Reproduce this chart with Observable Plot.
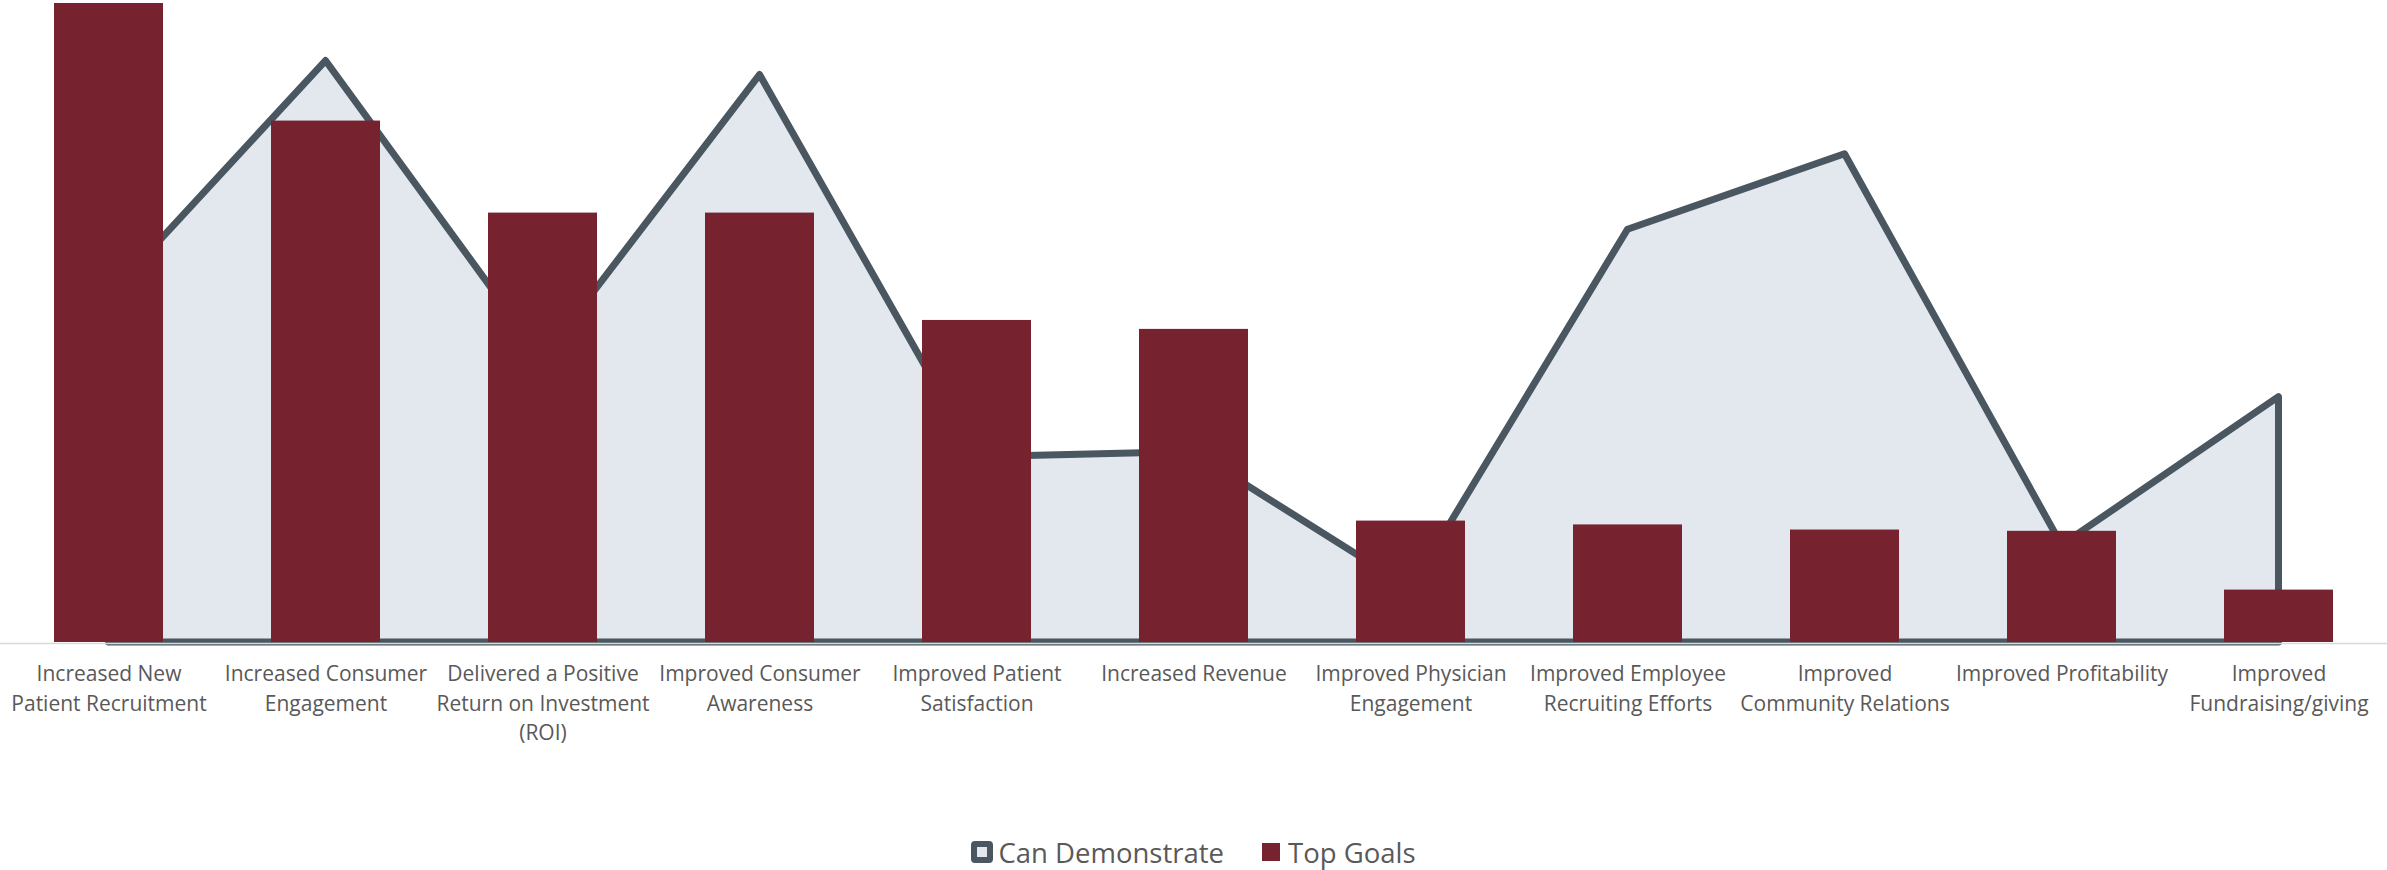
<!DOCTYPE html>
<html>
<head>
<meta charset="utf-8">
<script src="https://cdn.jsdelivr.net/npm/d3@7"></script>
<script src="https://cdn.jsdelivr.net/npm/@observablehq/plot@0.6"></script>
<style>
  html, body { margin: 0; padding: 0; background: #fff; }
  body { width: 2387px; height: 870px; overflow: hidden; font-family: "Open Sans", sans-serif; }
  #legend { display: flex; justify-content: center; align-items: center; height: 40px; margin-top: 32px; font-size: 27.5px; color: #595959; }
  .item { display: flex; align-items: center; }
  .sw-area { width: 22px; height: 22px; box-sizing: border-box; border: 6px solid #4a5760; background: #e3e8ef; border-radius: 4px; margin-right: 5px; }
  .sw-bar { width: 18px; height: 18px; background: #76222f; margin-right: 8px; }
</style>
</head>
<body>
<div id="chart"></div>
<div id="legend"></div>
<script>
const categories = [
  "Increased New Patient Recruitment",
  "Increased Consumer Engagement",
  "Delivered a Positive Return on Investment (ROI)",
  "Improved Consumer Awareness",
  "Improved Patient Satisfaction",
  "Increased Revenue",
  "Improved Physician Engagement",
  "Improved Employee Recruiting Efforts",
  "Improved Community Relations",
  "Improved Profitability",
  "Improved Fundraising/giving"
];
const tickLabels = [
  "Increased New\nPatient Recruitment",
  "Increased Consumer\nEngagement",
  "Delivered a Positive\nReturn on Investment\n(ROI)",
  "Improved Consumer\nAwareness",
  "Improved Patient\nSatisfaction",
  "Increased Revenue",
  "Improved Physician\nEngagement",
  "Improved Employee\nRecruiting Efforts",
  "Improved\nCommunity Relations",
  "Improved Profitability",
  "Improved\nFundraising/giving"
];
const topGoals = [50, 40.8, 33.6, 33.6, 25.2, 24.5, 9.5, 9.2, 8.8, 8.7, 4.1];
const canDemonstrate = [27.1, 45.5, 22.2, 44.4, 14.5, 14.9, 4.2, 32.3, 38.2, 7.6, 19.2];
const seriesNames = ["Can Demonstrate", "Top Goals"];

const data = categories.map((c, i) => ({category: c, top: topGoals[i], can: canDemonstrate[i]}));
const labelOf = new Map(categories.map((c, i) => [c, tickLabels[i]]));

const chart = Plot.plot({
  width: 2387,
  height: 800,
  marginTop: 3,
  marginBottom: 158,
  marginLeft: 0,
  marginRight: 0,
  style: {fontFamily: "'Open Sans', sans-serif", background: "#fff"},
  x: {domain: categories, padding: 0},
  y: {domain: [0, 50], axis: null},
  marks: [
    Plot.areaY(data, {x: "category", y: "can", fill: "#e3e8ef", stroke: "#4a5760", strokeWidth: 7, strokeLinejoin: "round"}),
    Plot.barY(data, {x: "category", y: "top", fill: "#76222f", insetLeft: 54, insetRight: 54}),
    Plot.ruleY([0], {stroke: "#d9d9d9", strokeWidth: 1.5, dy: 1}),
    Plot.axisX({tickSize: 0, tickPadding: 18, fontSize: 21, lineHeight: 1.4, fill: "#595959", tickFormat: d => labelOf.get(d), label: null})
  ]
});
document.getElementById("chart").appendChild(chart);

const legend = document.getElementById("legend");
legend.innerHTML =
  `<div class="item"><div class="sw-area"></div><span>${seriesNames[0]}</span></div>` +
  `<div class="item" style="margin-left:38px"><div class="sw-bar"></div><span>${seriesNames[1]}</span></div>`;
</script>
</body>
</html>
